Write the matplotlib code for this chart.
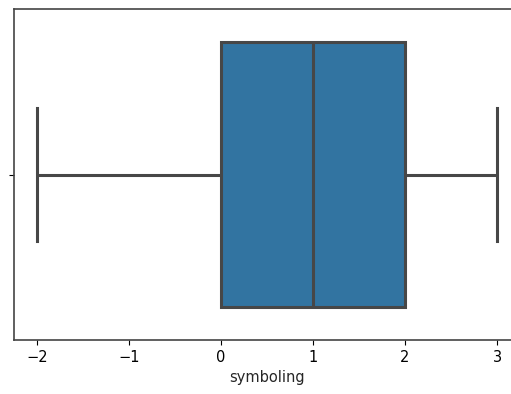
import numpy as np
import matplotlib
matplotlib.use("Agg")
import matplotlib.pyplot as plt
import seaborn as sns

# symboling values of the cars and how many cars have each value
symboling_values = [-2, -1, 0, 1, 2, 3]
symboling_counts = [3, 22, 67, 54, 32, 27]

symboling = np.repeat(symboling_values, symboling_counts)

fig = plt.figure(figsize=(5.11, 3.94), dpi=100)
ax = fig.add_axes([14 / 511, 1 - 340 / 394, 506 / 511, 331 / 394])

sns.boxplot(x=symboling, ax=ax, color="#3274a1", saturation=1,
            linecolor="#474747", linewidth=2.2, width=0.8)
ax.set_xlim(-2.25, 3.25)
ax.set_yticks([0])
ax.set_yticklabels([""])
ax.set_xlabel("symboling", fontsize=10.5, color="#262626")
ax.tick_params(labelsize=10.5)
for s in ax.spines.values():
    s.set_color("#444444")
    s.set_linewidth(1.2)

fig.savefig("out.png", dpi=100)
